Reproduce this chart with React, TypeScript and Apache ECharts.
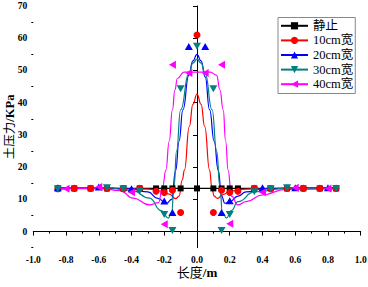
import React, { useEffect, useRef } from "react";
import * as echarts from "echarts";

const seriesNames = ["静止", "10cm宽", "20cm宽", "30cm宽", "40cm宽"];
const colors = ["#000000", "#ff0000", "#0000ff", "#008080", "#ff00ff"];
const symbols = ["rect", "circle", "triangle", "triangle", "triangle"];
const rotations = [0, 0, 0, 180, 90];
const symbolSizes: any[] = [6, 7, [8, 7], [8, 7], [8, 7]];

const xTicks = [-1.0, -0.8, -0.6, -0.4, -0.2, 0.0, 0.2, 0.4, 0.6, 0.8, 1.0];
const yTicks = [0, 10, 20, 30, 40, 50, 60, 70];
const yMinorTicks = [-5, 5, 15, 25, 35, 45, 55, 65];

// measured points
const staticX = [-0.85, -0.75, -0.65, -0.55, -0.45, -0.35, -0.25, -0.2, -0.15, -0.1, 0, 0.1, 0.15, 0.2, 0.25, 0.35, 0.45, 0.55, 0.65, 0.75, 0.85];
const staticY = [13.4, 13.4, 13.4, 13.4, 13.4, 13.4, 13.4, 13.4, 13.4, 13.4, 13.4, 13.4, 13.4, 13.4, 13.4, 13.4, 13.4, 13.4, 13.4, 13.4, 13.4];
const w10X = [-0.85, -0.75, -0.65, -0.55, -0.45, -0.35, -0.25, -0.2, -0.15, -0.1, 0, 0.1, 0.15, 0.2, 0.25, 0.35, 0.45, 0.55, 0.65, 0.75, 0.85];
const w10Y = [13.3, 13.4, 13.4, 13.4, 13.3, 13.4, 12.5, 12.1, 12.8, 5.9, 61, 5.9, 12.8, 12.1, 12.5, 13.4, 13.3, 13.4, 13.4, 13.4, 13.4];
const w20X = [-0.85, -0.6, -0.4, -0.2, -0.15, -0.05, 0.05, 0.15, 0.2, 0.4, 0.6, 0.8];
const w20Y = [13.6, 13.8, 13.3, 9.5, 5.9, 57.4, 57.4, 5.9, 9.6, 13.6, 13.6, 13.6];
const w30X = [-0.85, -0.55, -0.45, -0.35, -0.2, -0.15, -0.1, 0, 0.1, 0.15, 0.2, 0.35, 0.45, 0.55, 0.85];
const w30Y = [13.2, 13.6, 13.2, 12.6, 5.3, 0.3, 44.3, 57.5, 44.3, 0.3, 5.3, 12.4, 13.2, 13.6, 13.3];
const w40X = [-0.8, -0.6, -0.4, -0.2, -0.15, -0.05, 0.05, 0.15, 0.2, 0.4, 0.6, 0.8];
const w40Y = [13.3, 13.8, 12.2, 2.3, 51.8, 49.2, 49.2, 51.8, 2.4, 12.2, 13.6, 13.4];

// fitted curves
const staticCurve = [[-0.85, 13.4], [0.85, 13.4]];
const w10Curve = [[-0.85, 13.3], [-0.5, 13.3], [-0.3, 13.2], [-0.22, 12.6], [-0.17, 11.6], [-0.13, 10.2], [-0.11, 11], [-0.09, 16], [-0.077, 19.1], [-0.047, 32.6], [-0.025, 39.5], [0, 42.7], [0.025, 39.5], [0.047, 32.6], [0.077, 19.1], [0.09, 14], [0.105, 11], [0.125, 10.3], [0.16, 11.5], [0.2, 12.5], [0.3, 13.2], [0.5, 13.3], [0.85, 13.3]];
const w20Curve = [[-0.85, 13.6], [-0.6, 13.6], [-0.4, 13.3], [-0.3, 12.3], [-0.24, 10.3], [-0.185, 8.8], [-0.155, 10], [-0.13, 19], [-0.11, 28], [-0.086, 37.8], [-0.05, 48.5], [-0.025, 53], [0, 55], [0.025, 53], [0.05, 48], [0.077, 37.8], [0.105, 28], [0.13, 19], [0.15, 11], [0.17, 8.8], [0.2, 9.3], [0.25, 11], [0.3, 12.3], [0.4, 13.3], [0.6, 13.6], [0.85, 13.6]];
const w30Curve = [[-0.85, 13.2], [-0.55, 13.6], [-0.4, 12.8], [-0.29, 10.4], [-0.22, 6.5], [-0.175, 4.2], [-0.155, 6], [-0.14, 14], [-0.125, 25], [-0.1, 37.8], [-0.05, 49], [-0.025, 52.3], [0, 53.5], [0.025, 52.3], [0.05, 49], [0.092, 37.8], [0.12, 25], [0.14, 14], [0.155, 6], [0.18, 4.2], [0.21, 6.5], [0.25, 9.3], [0.35, 12.3], [0.55, 13.5], [0.85, 13.3]];
const w40Curve = [[-0.85, 13.3], [-0.6, 13.5], [-0.47, 12.7], [-0.39, 10.4], [-0.29, 8.3], [-0.235, 9], [-0.21, 14], [-0.19, 19.1], [-0.17, 28], [-0.15, 37.8], [-0.135, 44], [-0.12, 47.5], [-0.08, 49.5], [0, 49.5], [0.08, 49.5], [0.12, 48.5], [0.14, 44], [0.16, 37.8], [0.175, 28], [0.19, 19.1], [0.21, 11], [0.25, 8.3], [0.3, 9.3], [0.4, 11.4], [0.54, 13.1], [0.85, 13.3]];

const pointsX = [staticX, w10X, w20X, w30X, w40X];
const pointsY = [staticY, w10Y, w20Y, w30Y, w40Y];
const curves = [staticCurve, w10Curve, w20Curve, w30Curve, w40Curve];

const SERIF = "'Liberation Serif', 'Times New Roman', 'Noto Sans CJK SC', serif";

export default function App() {
  const ref = useRef<HTMLDivElement>(null);
  useEffect(() => {
    document.body.style.margin = "0";
    const chart = echarts.init(ref.current!, null, { renderer: "svg" });
    const lineSeries = seriesNames.map((name, i) => ({
      name,
      type: "line",
      data: curves[i],
      smooth: 0.5,
      smoothMonotone: "x",
      showSymbol: false,
      symbol: symbols[i],
      symbolRotate: rotations[i],
      lineStyle: { color: colors[i], width: 1.2 },
      itemStyle: { color: colors[i] },
      z: 2,
      silent: true,
    }));
    const scatterSeries = seriesNames.map((name, i) => ({
      name,
      type: "scatter",
      data: pointsX[i].map((x, j) => [x, pointsY[i][j]]),
      symbol: symbols[i],
      symbolRotate: rotations[i],
      symbolSize: symbolSizes[i],
      itemStyle: { color: colors[i], opacity: 1 },
      z: 3,
    }));
    chart.setOption({
      animation: false,
      backgroundColor: "#ffffff",
      grid: { left: 33.3, right: 7.3, top: 6, bottom: 39.3, outerBoundsMode: "none" },
      legend: {
        orient: "vertical",
        left: 278,
        top: 17.5,
        padding: [1, 2, 2, 2],
        itemGap: 0,
        itemWidth: 27,
        itemHeight: 9,
        borderColor: "#888888",
        borderWidth: 1,
        selectedMode: false,
        data: seriesNames,
        textStyle: { fontFamily: SERIF, fontSize: 12.5, color: "#000", lineHeight: 14.6 },
      },
      xAxis: {
        type: "value",
        min: -1,
        max: 1,
        interval: 0.2,
        name: "{a|长度}{b|/m}",
        nameLocation: "middle",
        nameGap: 18.5,
        nameMoveOverlap: false,
        nameTextStyle: {
          rich: {
            a: { fontFamily: SERIF, fontSize: 13, color: "#000" },
            b: { fontFamily: SERIF, fontSize: 13, fontWeight: "bold", color: "#000" },
          },
        },
        axisLine: { show: true, lineStyle: { color: "#000", width: 1 } },
        axisTick: { show: true, inside: false, length: 4, lineStyle: { color: "#000" }, customValues: xTicks },
        minorTick: { show: true, splitNumber: 2, length: 2, lineStyle: { color: "#000" } },
        axisLabel: {
          customValues: xTicks,
          formatter: (v: number) => v.toFixed(1),
          fontFamily: SERIF,
          fontWeight: "bold",
          fontSize: 9.5,
          color: "#000",
          margin: 8,
        },
        splitLine: { show: false },
      },
      yAxis: [
        {
          type: "value",
          min: -5,
          max: 70,
          name: "{a|土压力}{b|/KPa}",
          nameLocation: "middle",
          nameGap: 17,
          nameMoveOverlap: false,
          nameTextStyle: {
            rich: {
              a: { fontFamily: SERIF, fontSize: 12.5, color: "#000" },
              b: { fontFamily: SERIF, fontSize: 12.5, fontWeight: "bold", color: "#000" },
            },
          },
          axisLine: { show: true, lineStyle: { color: "#000", width: 1 } },
          axisTick: { show: true, inside: false, length: 4, lineStyle: { color: "#000" }, customValues: yTicks },
          axisLabel: {
            customValues: yTicks,
            fontFamily: SERIF,
            fontWeight: "bold",
            fontSize: 9.5,
            color: "#000",
            margin: 6,
          },
          splitLine: { show: false },
        },
        {
          type: "value",
          min: -5,
          max: 70,
          position: "left",
          axisLine: { show: false },
          axisTick: { show: true, inside: false, length: 2, lineStyle: { color: "#000" }, customValues: yMinorTicks },
          axisLabel: { show: false },
          splitLine: { show: false },
        },
      ],
      series: [...lineSeries, ...scatterSeries],
    });
    return () => chart.dispose();
  }, []);
  return <div ref={ref} style={{ width: 368, height: 287 }} />;
}
